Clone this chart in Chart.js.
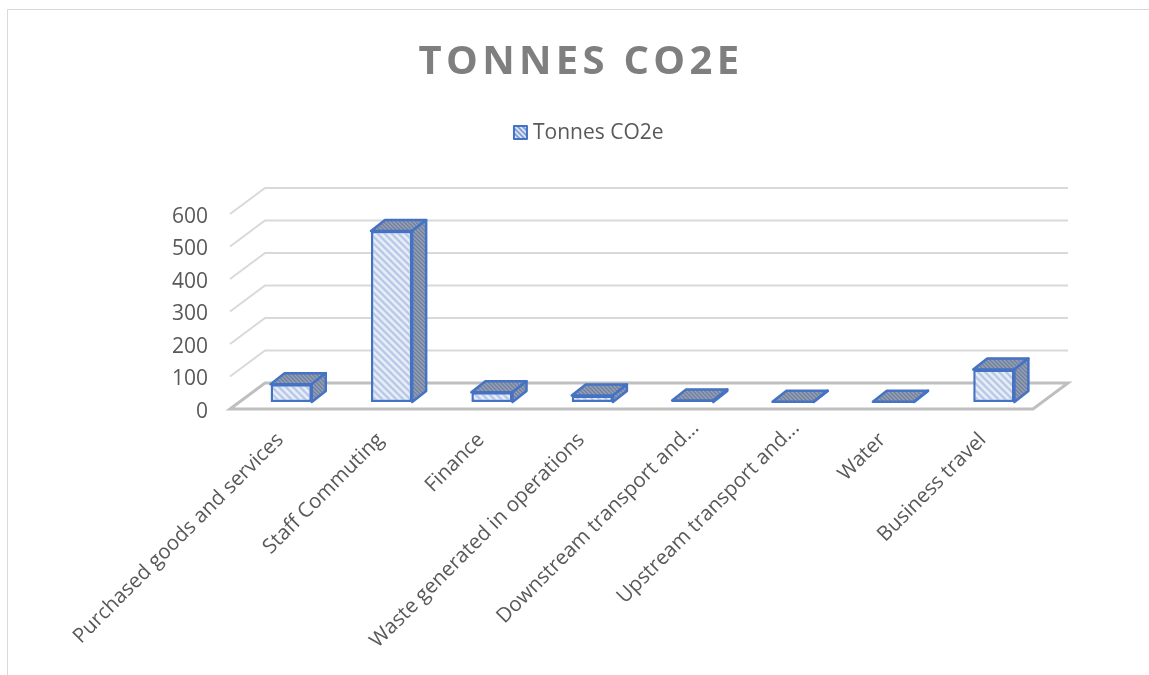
<!DOCTYPE html>
<html>
<head>
<meta charset="utf-8">
<title>Tonnes CO2e</title>
<script src="https://cdn.jsdelivr.net/npm/chart.js@4"></script>
<style>
    html, body { margin: 0; padding: 0; background: #ffffff; overflow: hidden; }
    #wrap { position: absolute; left: 0; top: 0; width: 1149px; height: 675px; }
</style>
</head>
<body>
<div id="wrap"><canvas id="co2Chart" width="1149" height="675"></canvas></div>
<script>
const categories = [
    "Purchased goods and services",
    "Staff Commuting",
    "Finance",
    "Waste generated in operations",
    "Downstream transport and...",
    "Upstream transport and...",
    "Water",
    "Business travel"
];
const tonnes = [55, 526, 30, 20, 5, 1, 1, 100];
const yTicks = [0, 100, 200, 300, 400, 500, 600];

const seriesName = "Tonnes CO2e";
const titleText = "TONNES CO2E";

// stripes for the bars
function makeHatch(size, back, line, width) {
    const c = document.createElement("canvas");
    c.width = size;
    c.height = size;
    const g = c.getContext("2d");
    g.fillStyle = back;
    g.fillRect(0, 0, size, size);
    g.strokeStyle = line;
    g.lineWidth = width;
    g.beginPath();
    g.moveTo(-size / 2, size / 2); g.lineTo(size / 2, size * 1.5);
    g.moveTo(0, 0); g.lineTo(size, size);
    g.moveTo(size / 2, -size / 2); g.lineTo(size * 1.5, size / 2);
    g.stroke();
    return g.createPattern(c, "repeat");
}

const frontFill = makeHatch(7, "#e8edf7", "#b8cae8", 2.4);
const darkFill = makeHatch(4, "#99a0af", "#6f80a3", 1.4);
const legendFill = makeHatch(5, "#dfe6f4", "#7a99d4", 1.6);

// depth of the floor and of the bars
const floorDx = 35, floorDy = 26;
const barDx = 14, barDy = 11;
const shiftX = 11, shiftY = -7;

const box3d = {
    id: "box3d",
    beforeDraw(chart) {
        const ctx = chart.ctx;
        // outer frame, only top and left show
        ctx.save();
        ctx.strokeStyle = "#d9d9d9";
        ctx.lineWidth = 1;
        ctx.beginPath();
        ctx.moveTo(1149, 9.5);
        ctx.lineTo(7.5, 9.5);
        ctx.lineTo(7.5, 675);
        ctx.stroke();
        ctx.restore();

        // the cut labels sit further up along their own line
        const x = chart.scales.x;
        if (x._cutMoved !== x.getLabelItems(chart.chartArea)) {
            const items = x.getLabelItems(chart.chartArea);
            items.forEach(item => {
                if (String(item.label).endsWith("...")) {
                    item.options.translation[0] += 14;
                    item.options.translation[1] -= 12;
                }
            });
            x._cutMoved = items;
        }
    },
    beforeDatasetsDraw(chart) {
        const ctx = chart.ctx;
        const y = chart.scales.y;
        const left = chart.chartArea.left;
        const right = chart.chartArea.right;

        ctx.save();
        ctx.lineJoin = "miter";
        ctx.strokeStyle = "#d9d9d9";
        ctx.lineWidth = 2;
        yTicks.forEach(v => {
            if (v === 0) return;
            const py = y.getPixelForValue(v);
            ctx.beginPath();
            ctx.moveTo(left, py);
            ctx.lineTo(left + floorDx, py - floorDy);
            ctx.lineTo(right + floorDx, py - floorDy);
            ctx.stroke();
        });
        // floor
        const y0 = y.getPixelForValue(0);
        ctx.strokeStyle = "#bfbfbf";
        ctx.lineWidth = 3;
        ctx.beginPath();
        ctx.moveTo(left, y0);
        ctx.lineTo(left + floorDx, y0 - floorDy);
        ctx.lineTo(right + floorDx, y0 - floorDy);
        ctx.lineTo(right, y0);
        ctx.closePath();
        ctx.stroke();
        ctx.restore();

        // bars stand a bit inside the floor
        ctx.save();
        ctx.translate(shiftX, shiftY);
    },
    afterDatasetsDraw(chart) {
        const ctx = chart.ctx;
        ctx.lineJoin = "round";
        ctx.lineWidth = 2.5;
        ctx.strokeStyle = "#4472c4";
        chart.getDatasetMeta(0).data.forEach(bar => {
            const l = bar.x - bar.width / 2;
            const r = bar.x + bar.width / 2;
            const t = bar.y;
            const b = bar.base;
            // top
            ctx.fillStyle = darkFill;
            ctx.beginPath();
            ctx.moveTo(l, t);
            ctx.lineTo(l + barDx, t - barDy);
            ctx.lineTo(r + barDx, t - barDy);
            ctx.lineTo(r, t);
            ctx.closePath();
            ctx.fill();
            ctx.stroke();
            // right side
            ctx.beginPath();
            ctx.moveTo(r, t);
            ctx.lineTo(r + barDx, t - barDy);
            ctx.lineTo(r + barDx, b - barDy);
            ctx.lineTo(r, b);
            ctx.closePath();
            ctx.fill();
            ctx.stroke();
        });
        ctx.restore();
    }
};

const chart = new Chart(document.getElementById("co2Chart"), {
    type: "bar",
    data: {
        labels: categories,
        datasets: [{
            label: seriesName,
            data: tonnes,
            backgroundColor: frontFill,
            borderColor: "#4472c4",
            borderWidth: 2.5,
            borderSkipped: false,
            categoryPercentage: 1,
            barPercentage: 0.41,
            clip: false
        }]
    },
    options: {
        responsive: false,
        animation: false,
        layout: { padding: { left: 129, right: 116, top: 39, bottom: 0 } },
        scales: {
            x: {
                grid: { display: false },
                border: { display: false },
                ticks: {
                    autoSkip: false,
                    minRotation: 45,
                    maxRotation: 45,
                    padding: 11,
                    color: "#595959",
                    font: { family: "'Open Sans'", size: 20.5 }
                },
                afterFit(scale) { scale.height = 266; }
            },
            y: {
                min: 0,
                max: 600,
                grid: { display: false },
                border: { display: false },
                ticks: {
                    stepSize: 100,
                    padding: 14,
                    labelOffset: 3,
                    color: "#595959",
                    font: { family: "'Open Sans'", size: 21 }
                },
                afterFit(scale) { scale.width = 101; }
            }
        },
        plugins: {
            title: {
                display: true,
                text: titleText,
                color: "#7f7f7f",
                font: { family: "'Open Sans'", size: 40, weight: "bold" },
                padding: { top: 0, bottom: 30 }
            },
            // empty block under the legend, keeps the plot clear of it
            subtitle: {
                display: true,
                text: "",
                weight: 500,
                font: { size: 10 },
                padding: { top: 0, bottom: 48 }
            },
            legend: {
                display: true,
                position: "top",
                labels: {
                    boxWidth: 12,
                    boxHeight: 12,
                    color: "#595959",
                    font: { family: "'Open Sans'", size: 21 },
                    padding: 6,
                    // the swatch is drawn below, closer to the text
                    generateLabels(c) {
                        return Chart.defaults.plugins.legend.labels.generateLabels(c).map(item => {
                            item.fillStyle = "rgba(0,0,0,0)";
                            item.strokeStyle = "rgba(0,0,0,0)";
                            item.lineWidth = 0;
                            return item;
                        });
                    }
                }
            },
            tooltip: { enabled: false }
        }
    },
    plugins: [box3d]
});

// the title has wide letter spacing, Chart.js has no option for it
const drawTitle = chart.titleBlock.draw;
chart.titleBlock.draw = function () {
    chart.ctx.save();
    chart.ctx.letterSpacing = "4.3px";
    drawTitle.apply(this, arguments);
    chart.ctx.restore();
};

const drawLegend = chart.legend.draw;
chart.legend.draw = function () {
    const ctx = chart.ctx;
    ctx.save();
    ctx.translate(6, 0);
    drawLegend.apply(this, arguments);
    const hit = this.legendHitBoxes[0];
    ctx.fillStyle = legendFill;
    ctx.strokeStyle = "#4472c4";
    ctx.lineWidth = 2;
    ctx.lineJoin = "round";
    ctx.beginPath();
    ctx.rect(hit.left + 3.5, hit.top + hit.height / 2 - 7.5, 13, 13);
    ctx.fill();
    ctx.stroke();
    ctx.restore();
};
chart.draw();
</script>
</body>
</html>
